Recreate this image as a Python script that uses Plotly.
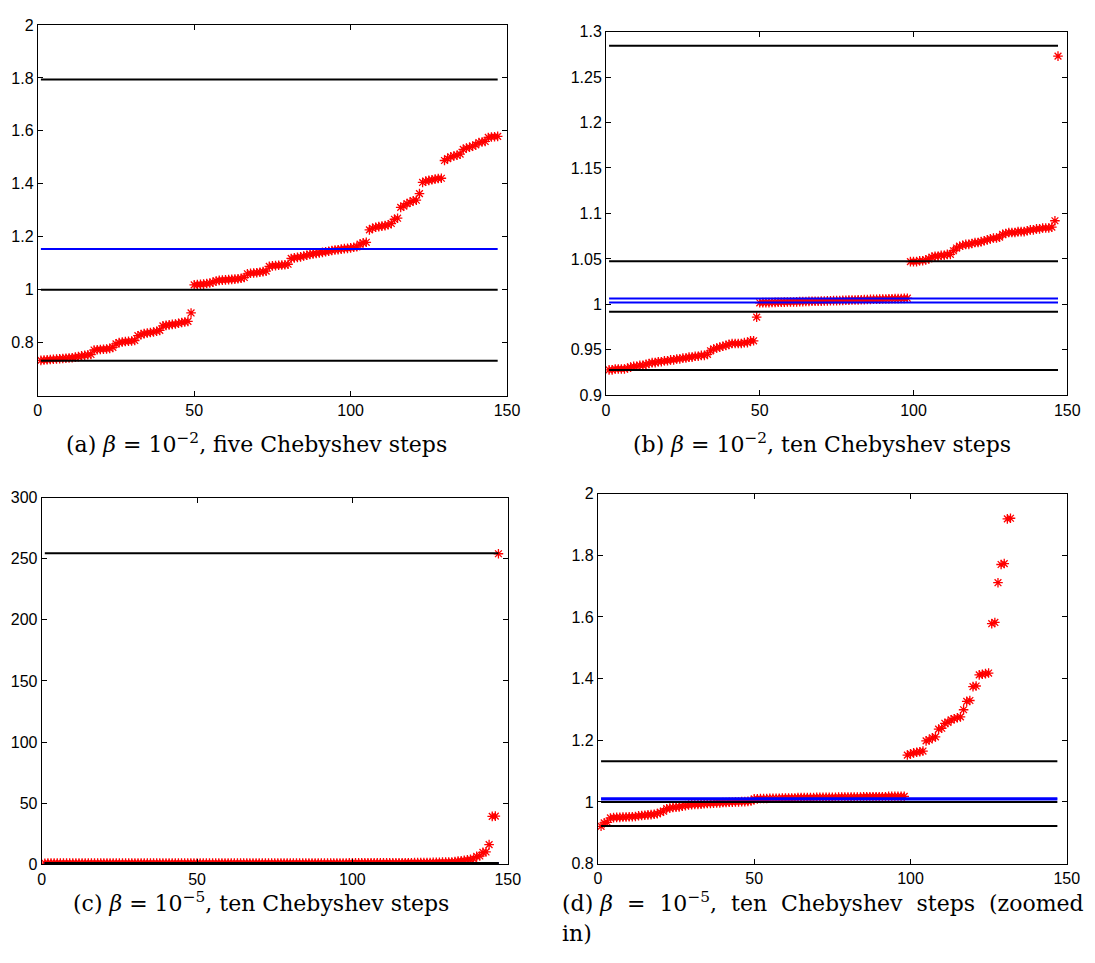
import plotly.graph_objects as go

# ---------------- data ----------------
# (a) beta=1e-2, five Chebyshev steps
vals_a = [
    0.733, 0.734, 0.735, 0.736, 0.737, 0.738, 0.739, 0.740, 0.741, 0.742, 0.743, 0.745, 0.747, 0.750, 0.752, 0.754, 0.755,
    0.772, 0.773, 0.774, 0.775, 0.776, 0.778, 0.782,
    0.795, 0.800, 0.802, 0.804, 0.805, 0.806, 0.808,
    0.826, 0.830, 0.834, 0.836, 0.838, 0.840, 0.843, 0.846,
    0.863, 0.865, 0.867, 0.869, 0.870, 0.873, 0.876, 0.878, 0.880,
    0.912,
    1.018, 1.019, 1.020, 1.021, 1.023, 1.025, 1.028,
    1.033, 1.035, 1.036, 1.037, 1.038, 1.039, 1.040, 1.041, 1.043, 1.046,
    1.060, 1.062, 1.063, 1.064, 1.066, 1.068, 1.070,
    1.088, 1.090, 1.091, 1.092, 1.093, 1.094, 1.096,
    1.118, 1.120, 1.122, 1.124, 1.127, 1.130, 1.133, 1.135, 1.137, 1.139, 1.141, 1.143, 1.145,
    1.148, 1.150, 1.151, 1.153, 1.155, 1.156, 1.158, 1.160, 1.162,
    1.172, 1.177, 1.179,
    1.226, 1.232, 1.236, 1.238, 1.240, 1.242, 1.245, 1.250,
    1.266, 1.270,
    1.311, 1.316, 1.325, 1.330, 1.336, 1.338,
    1.363,
    1.405, 1.410, 1.413, 1.415, 1.418, 1.420, 1.421,
    1.488, 1.495, 1.502, 1.505, 1.508, 1.512,
    1.530, 1.535, 1.538, 1.542, 1.547,
    1.556, 1.558, 1.560,
    1.575, 1.577, 1.578, 1.579,
]
black_a = [1.794, 1.0, 0.731]
blue_a = [1.154]

# (b) beta=1e-2, ten Chebyshev steps
vals_b = [
    0.928, 0.928, 0.929, 0.929, 0.929, 0.929, 0.930,
    0.931, 0.932, 0.932, 0.933, 0.933, 0.934,
    0.935, 0.936, 0.936, 0.937, 0.937, 0.938, 0.938, 0.939, 0.939,
    0.940, 0.940, 0.941, 0.941, 0.942, 0.942, 0.943, 0.943, 0.944, 0.944, 0.945,
    0.949, 0.951, 0.952, 0.953, 0.954, 0.955,
    0.956, 0.957, 0.957, 0.957, 0.957, 0.958, 0.958,
    0.960, 0.960,
    0.986,
    1.0018, 1.0019, 1.0020, 1.0020, 1.0021, 1.0022, 1.0023,
    1.0024, 1.0025, 1.0026, 1.0027, 1.0027, 1.0028, 1.0030,
    1.0031, 1.0032, 1.0033, 1.0034, 1.0035, 1.0035, 1.0036,
    1.0038, 1.0039, 1.0040, 1.0041, 1.0042, 1.0043, 1.0044,
    1.0046, 1.0047, 1.0048, 1.0049, 1.0050, 1.0051, 1.0052,
    1.0054, 1.0055, 1.0056, 1.0057, 1.0058, 1.0059, 1.0060,
    1.0061, 1.0062, 1.0063, 1.0064, 1.0065, 1.0066, 1.0068,
    1.047, 1.047, 1.047, 1.048, 1.048, 1.049, 1.050,
    1.052, 1.053, 1.053, 1.054, 1.054, 1.055, 1.055,
    1.059,
    1.062, 1.064, 1.065, 1.066, 1.066, 1.067, 1.068,
    1.068, 1.069, 1.070, 1.071, 1.072, 1.073, 1.073, 1.074,
    1.077, 1.078, 1.079, 1.079, 1.079, 1.080, 1.080,
    1.080, 1.081, 1.082, 1.082, 1.083,
    1.083, 1.084, 1.084, 1.084, 1.085,
    1.092,
    1.273,
]
black_b = [1.2845, 1.0475, 0.992, 0.928]
blue_b = [1.0065, 1.0022]

# (c)/(d) beta=1e-5, ten Chebyshev steps
vals_d = [
    0.921, 0.932, 0.934,
    0.948, 0.949, 0.950, 0.950, 0.951, 0.951, 0.952, 0.952, 0.953,
    0.955, 0.956, 0.957, 0.958, 0.959, 0.960, 0.962,
    0.966, 0.970,
    0.978, 0.980, 0.982, 0.983, 0.984, 0.986, 0.988,
    0.990, 0.991, 0.992, 0.992, 0.993, 0.994, 0.995, 0.995, 0.996, 0.997, 0.997, 0.998,
    0.998, 0.999, 0.999, 1.000, 1.000, 1.001, 1.001, 1.002, 1.003,
    1.010, 1.010, 1.011, 1.011, 1.011, 1.012, 1.012,
    1.012, 1.012, 1.013, 1.013, 1.013, 1.013, 1.013,
    1.014, 1.014, 1.014, 1.014, 1.014, 1.014, 1.015,
    1.015, 1.015, 1.015, 1.015, 1.015, 1.015, 1.016,
    1.016, 1.016, 1.016, 1.016, 1.016, 1.016, 1.016,
    1.017, 1.017, 1.017, 1.017, 1.017, 1.017, 1.017,
    1.017, 1.018, 1.018, 1.018, 1.018, 1.018, 1.018,
    1.152, 1.156, 1.159, 1.161, 1.163, 1.165,
    1.198, 1.201, 1.208, 1.211,
    1.236, 1.239, 1.255, 1.258,
    1.266, 1.270, 1.273, 1.276,
    1.299, 1.326, 1.329, 1.374, 1.376,
    1.412, 1.414, 1.416, 1.418,
    1.578, 1.582, 1.711, 1.770, 1.773, 1.918, 1.920,
]
tail_c = [2.3, 2.6, 2.9, 3.2, 3.6, 4.1, 4.4, 6.5, 6.8, 9.8, 10.1, 16.1, 39.2, 39.4, 254.0]
vals_c = vals_d + tail_c
black_c = [254.4, 1.132, 1.0, 0.922]
blue_c = [1.008, 1.012]

line_x = [1, 147]

x_ticks = [0, 50, 100, 150]
yticks_a = [0.8, 1.0, 1.2, 1.4, 1.6, 1.8, 2.0]
ylabels_a = ["0.8", "1", "1.2", "1.4", "1.6", "1.8", "2"]
yticks_b = [0.9, 0.95, 1.0, 1.05, 1.1, 1.15, 1.2, 1.25, 1.3]
ylabels_b = ["0.9", "0.95", "1", "1.05", "1.1", "1.15", "1.2", "1.25", "1.3"]
yticks_c = [0, 50, 100, 150, 200, 250, 300]
ylabels_c = ["0", "50", "100", "150", "200", "250", "300"]
yticks_d = [0.8, 1.0, 1.2, 1.4, 1.6, 1.8, 2.0]
ylabels_d = ["0.8", "1", "1.2", "1.4", "1.6", "1.8", "2"]

captions = [
    "(a) <i>β</i> = 10<sup>−2</sup>, five Chebyshev steps",
    "(b) <i>β</i> = 10<sup>−2</sup>, ten Chebyshev steps",
    "(c) <i>β</i> = 10<sup>−5</sup>, ten Chebyshev steps",
    "(d) <i>β</i>  =  10<sup>−5</sup>,  ten  Chebyshev  steps  (zoomed",
    "in)",
]

# ---------------- layout geometry (pixels) ----------------
W, H = 1095, 963
panels = [
    # (left, right, top, bottom, yrange)
    (34.3, 511.0, 17.3, 394.5, [0.6, 2.0]),
    (611.5, 1080.0, 24.0, 394.3, [0.9, 1.3]),
    (38.3, 511.7, 498.3, 871.7, [0, 300]),
    (603.3, 1079.5, 494.3, 871.0, [0.8, 2.0]),
]
data_sets = [
    (vals_a, black_a, blue_a, yticks_a, ylabels_a),
    (vals_b, black_b, blue_b, yticks_b, ylabels_b),
    (vals_c, black_c, blue_c, yticks_c, ylabels_c),
    (vals_c, black_c, blue_c, yticks_d, ylabels_d),
]

fig = go.Figure()
tick_font = dict(family="Liberation Sans, Arial, sans-serif", size=16, color="black")

for i, ((l, r, t, b, yr), (vals, blacks, blues, ytv, ytt)) in enumerate(zip(panels, data_sets)):
    n = i + 1
    xa = "x" if n == 1 else f"x{n}"
    ya = "y" if n == 1 else f"y{n}"
    idx = list(range(1, len(vals) + 1))
    fig.add_trace(go.Scatter(
        x=idx, y=vals, mode="markers", xaxis=xa, yaxis=ya, showlegend=False,
        marker=dict(symbol="asterisk-open", size=8, color="red",
                    line=dict(color="red", width=1.3)),
    ))
    for v in blues:
        fig.add_trace(go.Scatter(x=line_x, y=[v, v], mode="lines", xaxis=xa, yaxis=ya,
                                 showlegend=False, line=dict(color="#0000ff", width=2)))
    for v in blacks:
        fig.add_trace(go.Scatter(x=line_x, y=[v, v], mode="lines", xaxis=xa, yaxis=ya,
                                 showlegend=False, line=dict(color="black", width=2)))
    axis_common = dict(showline=True, linecolor="black", linewidth=1, mirror="ticks",
                       ticks="inside", ticklen=5, tickwidth=1, tickcolor="black",
                       showgrid=False, zeroline=False, tickfont=tick_font)
    xkey = "xaxis" if n == 1 else f"xaxis{n}"
    ykey = "yaxis" if n == 1 else f"yaxis{n}"
    fig.update_layout(**{
        xkey: dict(domain=[l / W, r / W], range=[0, 150], tickvals=x_ticks,
                   anchor=ya, **axis_common),
        ykey: dict(domain=[1 - b / H, 1 - t / H], range=yr, tickvals=ytv, ticktext=ytt,
                   anchor=xa, **axis_common),
    })

cap_font = dict(family="DejaVu Serif, Liberation Serif, serif", size=22, color="black")
cap_pos = [
    (256, 443, "center"),
    (831, 443, "center"),
    (261, 910, "center"),
    (565, 910, "left"),
    (565, 942, "left"),
]
for text, (cx, cy, al) in zip(captions, cap_pos):
    fig.add_annotation(text=text, x=cx / W, y=1 - cy / H, xref="paper", yref="paper",
                       xanchor=al, yanchor="middle", showarrow=False, font=cap_font)

fig.update_layout(width=W, height=H, margin=dict(l=0, r=0, t=0, b=0),
                  paper_bgcolor="white", plot_bgcolor="white")
fig.write_html("out.html")
